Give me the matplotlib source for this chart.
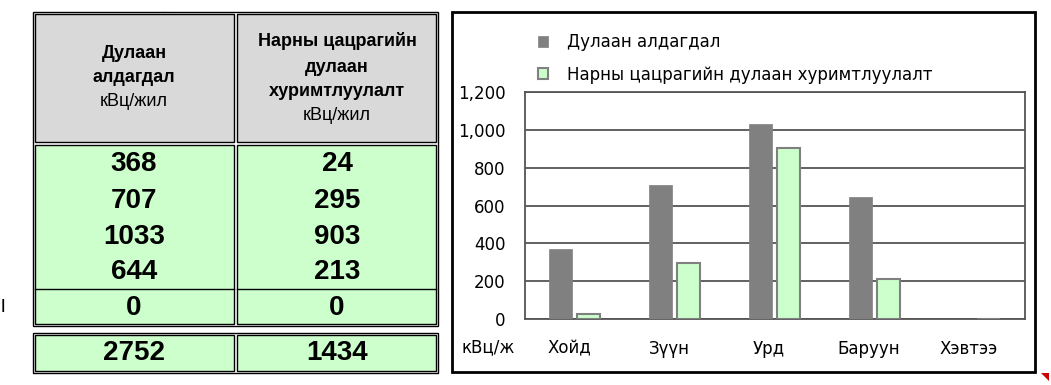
import numpy as np
import matplotlib
matplotlib.use("Agg")
import matplotlib.pyplot as plt
from matplotlib.patches import Rectangle, Polygon
from matplotlib.ticker import FuncFormatter

# data
categories = ["Хойд", "Зүүн", "Урд", "Баруун", "Хэвтээ"]
heat_loss = [368, 707, 1033, 644, 0]
solar_gain = [24, 295, 903, 213, 0]
totals = [2752, 1434]
series_names = ["Дулаан алдагдал", "Нарны цацрагийн дулаан хуримтлуулалт"]
y_ticks = [0, 200, 400, 600, 800, 1000, 1200]
unit_label = "кВц/ж"
head1 = ["Дулаан", "алдагдал"]
head2 = ["Нарны цацрагийн", "дулаан", "хуримтлуулалт"]
head_unit = "кВц/жил"

dark = "#808080"
light = "#ccffcc"
grey_head = "#d9d9d9"

fig = plt.figure(figsize=(10.51, 3.85), dpi=100)

# background axes in pixel coords for the table and frames
bg = fig.add_axes([0, 0, 1, 1])
bg.set_xlim(0, 1051)
bg.set_ylim(385, 0)
bg.axis("off")

def box(x0, y0, x1, y1, fc="none", lw=1.0, ec="black"):
    bg.add_patch(Rectangle((x0, y0), x1 - x0, y1 - y0, fc=fc, ec=ec, lw=lw))

# table - header part
box(33, 12, 438, 326)
box(35, 14, 234, 142, fc=grey_head)
box(237, 14, 436, 142, fc=grey_head)
box(35, 145, 234, 324, fc=light)
box(237, 145, 436, 324, fc=light)
bg.plot([35, 234], [289, 289], color="black", lw=1.0)
bg.plot([237, 436], [289, 289], color="black", lw=1.0)
# totals row
box(33, 333, 438, 373)
box(35, 335, 234, 371, fc=light)
box(237, 335, 436, 371, fc=light)

tfont = "Liberation Sans"
col_x = [134, 337]
for t, yy in zip(head1, [54, 78]):
    bg.text(col_x[0], yy, t, ha="center", va="center", fontsize=13,
            fontweight="bold", family=tfont)
bg.text(col_x[0], 101, head_unit, ha="center", va="center",
        fontsize=13, family=tfont)
for t, yy in zip(head2, [41, 67, 91]):
    bg.text(col_x[1], yy, t, ha="center", va="center", fontsize=13,
            fontweight="bold", family=tfont)
bg.text(col_x[1], 116, head_unit, ha="center", va="center",
        fontsize=13, family=tfont)
bg.text(166, 10, "...", ha="center", va="center", fontsize=7,
        fontweight="bold", family=tfont)

row_y = [164, 201, 237, 272, 308]
for i, (a, b) in enumerate(zip(heat_loss, solar_gain)):
    bg.text(col_x[0], row_y[i], str(a), ha="center", va="center",
            fontsize=20, fontweight="bold", family=tfont)
    bg.text(col_x[1], row_y[i], str(b), ha="center", va="center",
            fontsize=20, fontweight="bold", family=tfont)
for cx, tv in zip(col_x, totals):
    bg.text(cx, 353, str(tv), ha="center", va="center",
            fontsize=20, fontweight="bold", family=tfont)
bg.text(3, 308, "l", ha="center", va="center", fontsize=14, family=tfont)

# chart frame
box(452, 12, 1035, 372, lw=2.0)
bg.add_patch(Polygon([[1041, 373], [1049, 373], [1049, 381]], closed=True,
                     fc="#cc0000", ec="none"))
bg.text(488, 347, unit_label, ha="center", va="center", fontsize=12)

# bar chart
ax = fig.add_axes([525 / 1051, (385 - 319) / 385, 500 / 1051, 227 / 385])
x = np.arange(len(categories))
w = 0.23
b1 = ax.bar(x - 0.15, heat_loss, w, color=dark, edgecolor=dark, lw=0.5,
            label=series_names[0], zorder=3)
b2 = ax.bar(x + 0.13, solar_gain, w, color=light, edgecolor="#808080", lw=1.5,
            label=series_names[1], zorder=3)
ax.set_xlim(-0.5, 4.5)
ax.set_ylim(0, 1200)
ax.set_yticks(y_ticks)
ax.yaxis.set_major_formatter(FuncFormatter(lambda v, p: f"{int(v):,}"))
ax.set_xticks(x - 0.06)
ax.set_xticklabels(categories)
ax.tick_params(length=0, labelsize=12)
ax.tick_params(axis="y", pad=14)
ax.tick_params(axis="x", pad=15)
ax.grid(axis="y", color="#555555", lw=1.3, zorder=0)
for s in ax.spines.values():
    s.set_color("#555555")
    s.set_linewidth(1.3)

fig.legend(handles=[b1, b2], loc="upper left", bbox_to_anchor=(530, 25),
           bbox_transform=bg.transData, frameon=False, fontsize=12,
           handlelength=0.6, handleheight=0.6, handletextpad=1.1,
           labelspacing=0.85, borderpad=0)

fig.savefig("out.png", dpi=100)
